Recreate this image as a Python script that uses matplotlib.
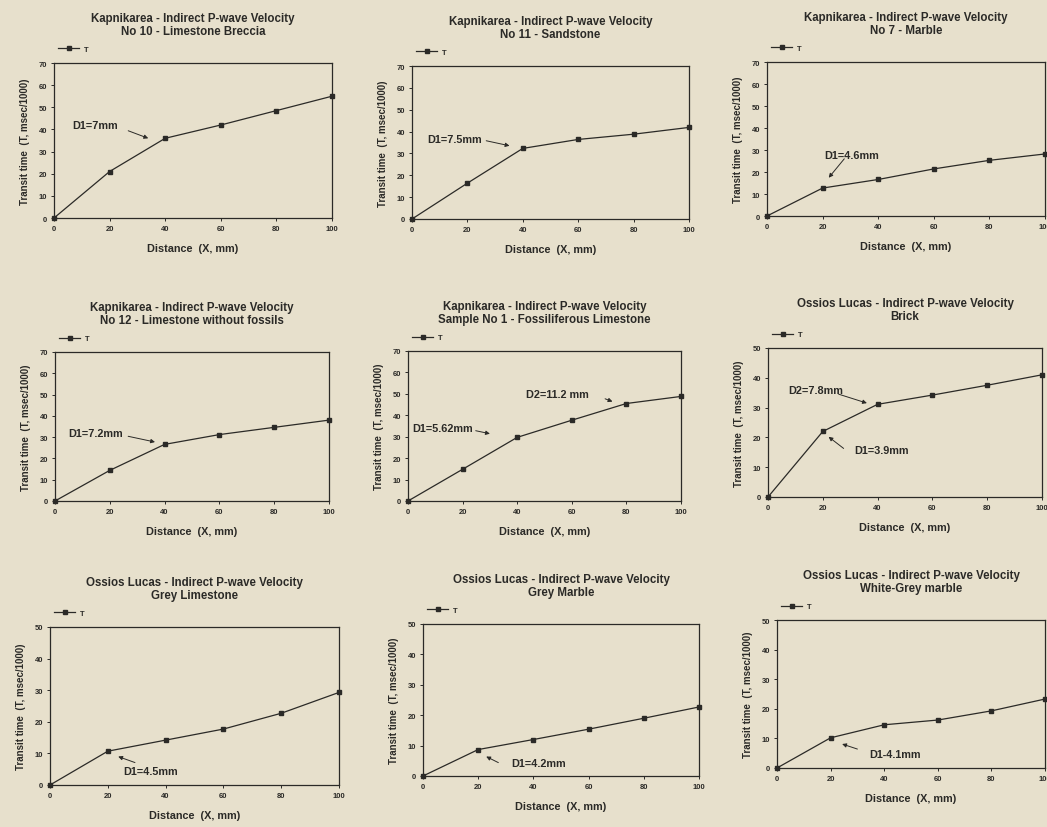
import matplotlib.pyplot as plt

plt.rcParams["font.family"] = ["Liberation Sans", "DejaVu Sans"]
plt.rcParams["font.weight"] = "bold"
plt.rcParams["axes.labelweight"] = "bold"

W, H = 1047, 828
paper = "#e7e0cc"
ink = "#2b2a27"

distance = [0, 20, 40, 60, 80, 100]

titles = [
    "Kapnikarea - Indirect P-wave Velocity\nNo 10 - Limestone Breccia",
    "Kapnikarea - Indirect P-wave Velocity\nNo 11 - Sandstone",
    "Kapnikarea - Indirect P-wave Velocity\nNo 7 - Marble",
    "Kapnikarea - Indirect P-wave Velocity\nNo 12 - Limestone without fossils",
    "Kapnikarea - Indirect P-wave Velocity\nSample No 1 - Fossiliferous Limestone",
    "Ossios Lucas - Indirect P-wave Velocity\nBrick",
    "Ossios Lucas - Indirect P-wave Velocity\nGrey Limestone",
    "Ossios Lucas - Indirect P-wave Velocity\nGrey Marble",
    "Ossios Lucas - Indirect P-wave Velocity\nWhite-Grey marble",
]

t_breccia = [0, 21, 36, 42, 48.5, 55]
t_sandstone = [0, 16.4, 32.3, 36.4, 38.8, 41.9]
t_marble7 = [0, 12.7, 16.6, 21.4, 25.3, 28.2]
t_limestone12 = [0, 14.4, 26.6, 31.2, 34.6, 38]
t_fossil = [0, 14.8, 29.7, 37.7, 45.5, 48.8]
t_brick = [0, 22, 31.1, 34.2, 37.5, 41]
t_grey_lime = [0, 10.7, 14.2, 17.7, 22.7, 29.3]
t_grey_marble = [0, 8.7, 12, 15.4, 19, 22.7]
t_white_grey = [0, 10.2, 14.6, 16.2, 19.3, 23.3]

series = [t_breccia, t_sandstone, t_marble7, t_limestone12, t_fossil,
          t_brick, t_grey_lime, t_grey_marble, t_white_grey]
ymax = [70, 70, 70, 70, 70, 50, 50, 50, 50]

# notes: (label, text xy, arrow tail, arrow head) in data coords
notes = [
    [("D1=7mm", (6.6, 42), (26.7, 39.4), (33.9, 36))],
    [("D1=7.5mm", (5.6, 36.8), (26.8, 35.8), (35.2, 33.5))],
    [("D1=4.6mm", (20.6, 27.6), (27.8, 26), (22.2, 17.4))],
    [("D1=7.2mm", (4.9, 32.1), (26.7, 30.4), (36.5, 27.7))],
    [("D1=5.62mm", (1.6, 33.9), (24.8, 32.8), (30, 31.4)),
     ("D2=11.2 mm", (43.1, 49.7), (72.2, 47.7), (74.9, 46.4))],
    [("D2=7.8mm", (7.5, 36), (25.8, 34.5), (36.1, 31.5)),
     ("D1=3.9mm", (31.5, 15.7), (27.6, 16.3), (22.1, 20.2))],
    [("D1=4.5mm", (25.3, 4.4), (29.4, 7.1), (23.6, 9))],
    [("D1=4.2mm", (32, 4.4), (27.3, 4.4), (22.9, 6.4))],
    [("D1-4.1mm", (34.4, 4.7), (30, 6.4), (24.3, 8.1))],
]

# axes boxes in pixels: left, top, width, height
boxes = [
    (54, 64, 278, 155), (412, 67, 277, 153), (767, 63, 278, 154),
    (55, 353, 274, 149), (408, 352, 273, 150), (768, 349, 274, 149),
    (50, 628, 289, 158), (423, 625, 276, 152), (777, 621, 268, 148),
]

fig = plt.figure(figsize=(W / 100, H / 100), dpi=100, facecolor=paper)

for i in range(9):
    l, t, w, h = boxes[i]
    ax = fig.add_axes([l / W, 1 - (t + h) / H, w / W, h / H])
    ax.set_facecolor(paper)
    ax.plot(distance, series[i], color=ink, lw=0.9, marker="s", ms=3.3,
            mfc=ink, mec=ink, label="T", clip_on=False, zorder=3)
    ax.set_xlim(0, 100)
    ax.set_ylim(0, ymax[i])
    ax.set_xticks(distance)
    ax.set_yticks(range(0, ymax[i] + 1, 10))
    ax.tick_params(direction="out", length=2, width=0.7, labelsize=5.5,
                   colors=ink, pad=3)
    for s in ax.spines.values():
        s.set_linewidth(0.9)
        s.set_color(ink)
    ax.set_xlabel("Distance  (X, mm)", fontsize=7.8, color=ink, labelpad=8)
    ax.set_ylabel("Transit time  (T, msec/1000)", fontsize=7, color=ink,
                  labelpad=6)
    ax.annotate(titles[i], xy=(0.5, 1), xycoords="axes fraction",
                xytext=(0, 19), textcoords="offset points", ha="center",
                va="bottom", fontsize=8.3, color=ink, linespacing=1.1)
    ax.legend(loc="lower left", bbox_to_anchor=(0.0, 1.04), frameon=False,
              fontsize=5.5, handlelength=2.8, labelcolor=ink, borderpad=0,
              handletextpad=0.6)
    for label, txy, tail, head in notes[i]:
        ax.text(txy[0], txy[1], label, fontsize=7.8, color=ink,
                ha="left", va="center")
        ax.annotate("", xy=head, xytext=tail,
                    arrowprops=dict(arrowstyle="-|>", color=ink, lw=0.7,
                                    mutation_scale=6, shrinkA=0, shrinkB=0))

fig.savefig("out.png", dpi=100, facecolor=paper)
